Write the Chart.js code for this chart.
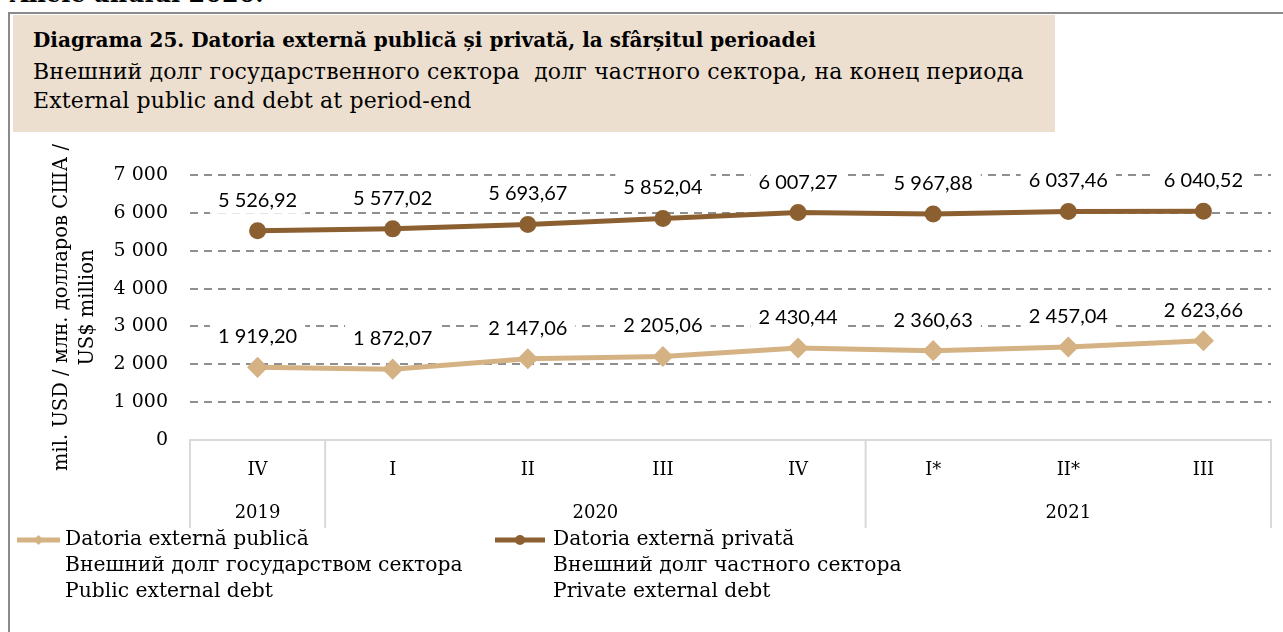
<!DOCTYPE html>
<html>
<head>
<meta charset="utf-8">
<script src="https://cdn.jsdelivr.net/npm/chart.js"></script>
<style>
  body { margin: 0; background: #fff; width: 1283px; height: 632px; overflow: hidden; position: relative; font-family: "DejaVu Serif", serif; }
  #topline { position: absolute; left: 10px; top: -21px; font: bold 24px "DejaVu Serif", serif; color: #000; }
  #frame { position: absolute; left: 8px; top: 12px; width: 1300px; height: 700px; border-left: 2px solid #8a8a8a; border-top: 2px solid #8a8a8a; }
  #titlebox { position: absolute; left: 13px; top: 15px; width: 1042px; height: 117px; background: #eddfcf; }
  #titlebox div { position: absolute; left: 20px; font-size: 22px; letter-spacing: 0.15px; color: #000; white-space: pre; }
  #wrap { position: absolute; left: 0; top: 0; width: 1283px; height: 632px; }
</style>
</head>
<body>
<div id="topline">Anele anului 2020.</div>
<div id="frame"></div>
<div id="titlebox">
  <div style="top:13px;font-weight:bold;font-size:20px;letter-spacing:0">Diagrama 25. Datoria externă publică și privată, la sfârșitul perioadei</div>
  <div style="top:44px">Внешний долг государственного сектора  долг частного сектора, на конец периода</div>
  <div style="top:73px">External public and debt at period-end</div>
</div>
<div id="wrap"><canvas id="debtChart"></canvas></div>
<script>
const quarters = ['IV', 'I', 'II', 'III', 'IV', 'I*', 'II*', 'III'];
const years = ['2019', '2020', '2021'];
const yearSpans = [1, 4, 3];
const publicDebt = [1919.20, 1872.07, 2147.06, 2205.06, 2430.44, 2360.63, 2457.04, 2623.66];
const privateDebt = [5526.92, 5577.02, 5693.67, 5852.04, 6007.27, 5967.88, 6037.46, 6040.52];
const publicLabel = ['Datoria externă publică', 'Внешний долг государством сектора', 'Public external debt'];
const privateLabel = ['Datoria externă privată', 'Внешний долг частного сектора', 'Private external debt'];
const yTitle = ['mil. USD / млн. долларов США /', 'US$ million'];

const serif = '"DejaVu Serif", serif';
const fmtNum = (v, dec) => {
  let [i, d] = v.toFixed(dec).split('.');
  i = i.replace(/\B(?=(\d{3})+(?!\d))/g, ' ');
  return d ? i + ',' + d : i;
};

// value labels with a white box that hides the gridlines
const valueLabels = {
  id: 'valueLabels',
  afterDatasetsDraw(chart) {
    const ctx = chart.ctx;
    ctx.save();
    ctx.font = '20px Lato, sans-serif';
    ctx.textAlign = 'center';
    ctx.textBaseline = 'middle';
    chart.data.datasets.forEach((ds, i) => {
      chart.getDatasetMeta(i).data.forEach((pt, j) => {
        const txt = fmtNum(ds.data[j], 2);
        const w = ctx.measureText(txt).width + 16;
        const cy = pt.y - 31.5;
        ctx.fillStyle = '#fff';
        ctx.fillRect(pt.x - w / 2, cy - 14.5, w, 29);
        ctx.fillStyle = '#000';
        ctx.fillText(txt, pt.x, cy + 1);
      });
    });
    ctx.restore();
  }
};

// year level of the axis, separators and legend
const decor = {
  id: 'decor',
  afterDraw(chart) {
    const ctx = chart.ctx, xs = chart.scales.x, area = chart.chartArea;
    const step = xs.getPixelForValue(1) - xs.getPixelForValue(0);
    ctx.save();
    ctx.strokeStyle = '#d9d9d9';
    ctx.lineWidth = 2;
    let start = 0;
    const edges = [area.left];
    ctx.font = '18px ' + serif;
    ctx.fillStyle = '#000';
    ctx.textAlign = 'center';
    ctx.textBaseline = 'middle';
    years.forEach((y, k) => {
      const end = start + yearSpans[k] - 1;
      const cx = (xs.getPixelForValue(start) + xs.getPixelForValue(end)) / 2;
      ctx.fillText(y, cx, 513);
      edges.push(xs.getPixelForValue(end) + step / 2);
      start = end + 1;
    });
    edges.forEach(e => {
      ctx.beginPath();
      ctx.moveTo(e, area.bottom);
      ctx.lineTo(e, 528);
      ctx.stroke();
    });

    // legend
    const items = [
      {ds: chart.data.datasets[0], x0: 17, x1: 60, tx: 65},
      {ds: chart.data.datasets[1], x0: 495, x1: 545, tx: 553}
    ];
    items.forEach(it => {
      const ly = 540;
      ctx.strokeStyle = it.ds.borderColor;
      ctx.lineWidth = 5;
      ctx.beginPath();
      ctx.moveTo(it.x0, ly);
      ctx.lineTo(it.x1, ly);
      ctx.stroke();
      ctx.fillStyle = it.ds.borderColor;
      const mx = (it.x0 + it.x1) / 2;
      if (it.ds.pointStyle === 'circle') {
        ctx.beginPath(); ctx.arc(mx, ly, 5, 0, Math.PI * 2); ctx.fill();
      } else {
        ctx.beginPath();
        ctx.moveTo(mx, ly - 5); ctx.lineTo(mx + 5, ly); ctx.lineTo(mx, ly + 5); ctx.lineTo(mx - 5, ly);
        ctx.closePath(); ctx.fill();
      }
      ctx.fillStyle = '#000';
      ctx.textAlign = 'left';
      ctx.font = '20.3px ' + serif;
      it.ds.label.split('\n').forEach((line, n) => ctx.fillText(line, it.tx, ly + n * 26));
    });
    ctx.restore();
  }
};

new Chart(document.getElementById('debtChart'), {
  type: 'line',
  data: {
    labels: quarters,
    datasets: [{
      label: publicLabel.join('\n'),
      data: publicDebt,
      borderColor: '#d5b283',
      backgroundColor: '#d5b283',
      borderWidth: 5,
      pointStyle: 'rectRot',
      pointRadius: 7,
      pointHoverRadius: 7,
      tension: 0
    }, {
      label: privateLabel.join('\n'),
      data: privateDebt,
      borderColor: '#8b5f30',
      backgroundColor: '#8b5f30',
      borderWidth: 5,
      pointStyle: 'circle',
      pointRadius: 6,
      pointHoverRadius: 6,
      tension: 0
    }]
  },
  options: {
    responsive: true,
    maintainAspectRatio: false,
    animation: false,
    layout: { padding: { top: 175, left: 40, right: 6, bottom: 102 } },
    plugins: { legend: { display: false }, tooltip: { enabled: false } },
    scales: {
      x: {
        offset: true,
        grid: { display: false, drawTicks: false },
        border: { display: true, color: '#d9d9d9', width: 2 },
        ticks: { color: '#000', font: { family: serif, size: 18 }, padding: 20, maxRotation: 0, autoSkip: false },
        afterFit(s) { s.height = 90; }
      },
      y: {
        min: 0,
        max: 7000,
        ticks: { stepSize: 1000, color: '#000', font: { family: serif, size: 19 }, padding: 22, callback: v => fmtNum(v, 0) },
        grid: {
          drawTicks: false,
          color: c => c.tick && c.tick.value === 0 ? 'rgba(0,0,0,0)' : '#8f8f8f',
          lineWidth: 2
        },
        border: { display: false, dash: [8, 6] },
        title: { display: true, text: yTitle, color: '#000', font: { family: serif, size: 19.5, lineHeight: 1.33 }, padding: { top: 9, bottom: 0 } },
        afterFit(s) { s.width = 150; }
      }
    }
  },
  plugins: [valueLabels, decor]
});
</script>
</body>
</html>
